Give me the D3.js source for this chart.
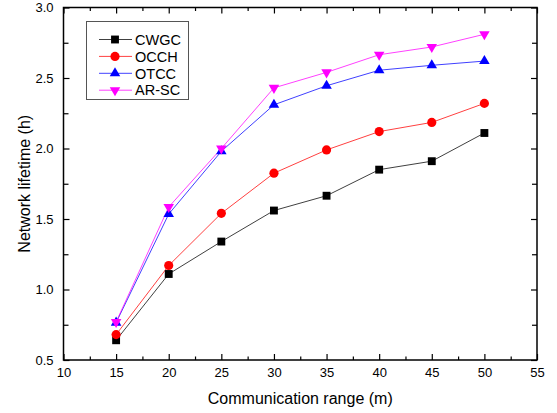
<!DOCTYPE html>
<html>
<head>
<meta charset="utf-8">
<script src="https://cdn.jsdelivr.net/npm/d3@7"></script>
<style>
  body { margin: 0; background: #fff; }
  text { font-family: Arial, "Liberation Sans", sans-serif; fill: #000; }
</style>
</head>
<body>
<svg id="chart"></svg>
<script>
var width = 557, height = 413;

// data
var ranges = [15, 20, 25, 30, 35, 40, 45, 50];
var cwgc = [0.64, 1.11, 1.34, 1.56, 1.665, 1.85, 1.91, 2.11];
var occh = [0.68, 1.17, 1.54, 1.825, 1.99, 2.12, 2.185, 2.32];
var otcc = [0.765, 1.535, 1.98, 2.31, 2.445, 2.555, 2.59, 2.62];
var arsc = [0.77, 1.585, 2.0, 2.43, 2.54, 2.665, 2.72, 2.81];
var seriesNames = ['CWGC', 'OCCH', 'OTCC', 'AR-SC'];
var xTicks = [10, 15, 20, 25, 30, 35, 40, 45, 50, 55];
var yTicks = [0.5, 1.0, 1.5, 2.0, 2.5, 3.0];

var series = [
    {name: seriesNames[0], values: cwgc, color: '#000000', symbol: d3.symbolSquare, size: 62, rot: 0},
    {name: seriesNames[1], values: occh, color: '#ff0000', symbol: d3.symbolCircle, size: 66, rot: 0},
    {name: seriesNames[2], values: otcc, color: '#0000ff', symbol: d3.symbolTriangle, size: 48, rot: 0},
    {name: seriesNames[3], values: arsc, color: '#ff00ff', symbol: d3.symbolTriangle, size: 48, rot: 180}
];

var plotLeft = 63.5, plotRight = 537, plotTop = 7.5, plotBottom = 360;

var svg = d3.select('#chart')
    .attr('width', width)
    .attr('height', height);

var x = d3.scaleLinear().domain([10, 55]).range([plotLeft, plotRight]);
var y = d3.scaleLinear().domain([0.5, 3.0]).range([plotBottom, plotTop]);

var xMinor = d3.range(12.5, 55, 5);
var yMinor = d3.range(0.75, 3.0, 0.5);

// frame ticks (inward)
function drawTicks(g, axis) {
    g.call(axis);
    g.select('.domain').remove();
    g.selectAll('.tick line').attr('stroke', '#000').attr('stroke-width', 1.2);
}

svg.append('g').attr('transform', `translate(0,${plotBottom})`)
    .call(g => drawTicks(g, d3.axisBottom(x).tickValues(xTicks).tickSizeInner(-6).tickSizeOuter(0).tickFormat(d3.format('d'))))
    .call(g => g.selectAll('text').attr('font-size', 13).attr('dy', '0.71em').attr('y', 8));
svg.append('g').attr('transform', `translate(0,${plotBottom})`)
    .call(g => drawTicks(g, d3.axisBottom(x).tickValues(xMinor).tickSizeInner(-3.5).tickSizeOuter(0).tickFormat('')));

svg.append('g').attr('transform', `translate(0,${plotTop})`)
    .call(g => drawTicks(g, d3.axisTop(x).tickValues(xTicks).tickSizeInner(-6).tickSizeOuter(0).tickFormat('')));
svg.append('g').attr('transform', `translate(0,${plotTop})`)
    .call(g => drawTicks(g, d3.axisTop(x).tickValues(xMinor).tickSizeInner(-3.5).tickSizeOuter(0).tickFormat('')));

svg.append('g').attr('transform', `translate(${plotLeft},0)`)
    .call(g => drawTicks(g, d3.axisLeft(y).tickValues(yTicks).tickSizeInner(-6).tickSizeOuter(0).tickFormat(d3.format('.1f'))))
    .call(g => g.selectAll('text').attr('font-size', 13).attr('x', -10));
svg.append('g').attr('transform', `translate(${plotLeft},0)`)
    .call(g => drawTicks(g, d3.axisLeft(y).tickValues(yMinor).tickSizeInner(-5).tickSizeOuter(0).tickFormat('')));

svg.append('g').attr('transform', `translate(${plotRight},0)`)
    .call(g => drawTicks(g, d3.axisRight(y).tickValues(yTicks).tickSizeInner(-6).tickSizeOuter(0).tickFormat('')));
svg.append('g').attr('transform', `translate(${plotRight},0)`)
    .call(g => drawTicks(g, d3.axisRight(y).tickValues(yMinor).tickSizeInner(-5).tickSizeOuter(0).tickFormat('')));

// frame
svg.append('rect')
    .attr('x', plotLeft).attr('y', plotTop)
    .attr('width', plotRight - plotLeft).attr('height', plotBottom - plotTop)
    .attr('fill', 'none').attr('stroke', '#000').attr('stroke-width', 1.5);

// axis titles
svg.append('text')
    .attr('x', (plotLeft + plotRight) / 2).attr('y', 404)
    .attr('text-anchor', 'middle').attr('font-size', 16)
    .text('Communication range (m)');
svg.append('text')
    .attr('transform', `translate(30,${(plotTop + plotBottom) / 2}) rotate(-90)`)
    .attr('text-anchor', 'middle').attr('font-size', 16)
    .text('Network lifetime (h)');

// lines
var line = d3.line()
    .x((d, i) => x(ranges[i]))
    .y(d => y(d));

series.forEach(function(s) {
    svg.append('path')
        .datum(s.values)
        .attr('d', line)
        .attr('fill', 'none')
        .attr('stroke', s.color)
        .attr('stroke-opacity', 0.75)
        .attr('stroke-width', 1);
});

series.forEach(function(s) {
    svg.append('g').selectAll('path')
        .data(s.values)
        .enter()
        .append('path')
        .attr('d', d3.symbol().type(s.symbol).size(s.size))
        .attr('transform', (d, i) => `translate(${x(ranges[i])},${y(d)}) rotate(${s.rot})`)
        .attr('fill', s.color);
});

// legend
var legend = svg.append('g');
legend.append('rect')
    .attr('x', 86.5).attr('y', 21.5)
    .attr('width', 102).attr('height', 78)
    .attr('fill', '#fff').attr('stroke', '#555').attr('stroke-width', 1);

series.forEach(function(s, i) {
    var ly = 39.5 + i * 16.9;
    legend.append('line')
        .attr('x1', 99).attr('x2', 132)
        .attr('y1', ly).attr('y2', ly)
        .attr('stroke', s.color).attr('stroke-opacity', 0.75).attr('stroke-width', 1);
    legend.append('path')
        .attr('d', d3.symbol().type(s.symbol).size(s.size))
        .attr('transform', `translate(115,${ly}) rotate(${s.rot})`)
        .attr('fill', s.color);
    legend.append('text')
        .attr('x', 135).attr('y', ly).attr('dy', '0.36em')
        .attr('font-size', 14.5)
        .text(s.name);
});
</script>
</body>
</html>
